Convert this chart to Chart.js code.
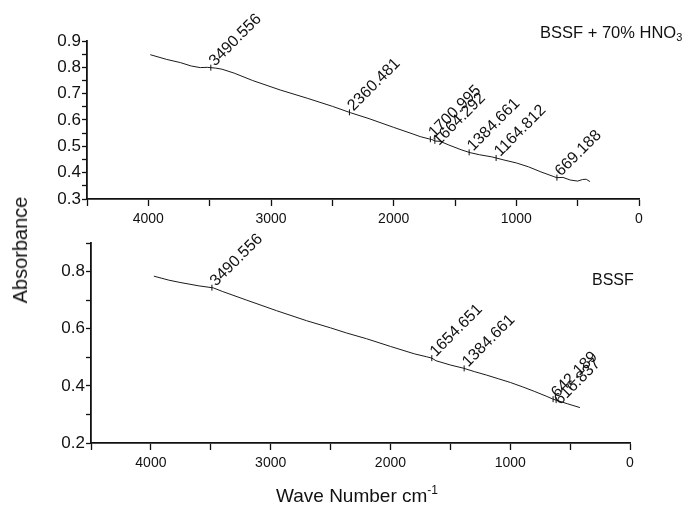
<!DOCTYPE html>
<html>
<head>
<meta charset="utf-8">
<script src="https://cdn.jsdelivr.net/npm/chart.js@4.4.1/dist/chart.umd.min.js"></script>
<style>
  body { margin: 0; background: #fff; width: 685px; height: 505px; position: relative; overflow: hidden;
         font-family: "Liberation Sans", Arial, sans-serif; color: #111; }
  canvas { position: absolute; left: 0; }
  #topChart { top: 0; }
  #bottomChart { top: 228px; }
  .txt { position: absolute; white-space: nowrap; line-height: 1; }
  sub { font-size: 11px; vertical-align: -3px; }
  sup { font-size: 12px; vertical-align: 8px; }
</style>
</head>
<body>
<canvas id="topChart" width="685" height="232"></canvas>
<canvas id="bottomChart" width="685" height="277"></canvas>

<div class="txt" style="left:540px;top:24px;font-size:16.5px">BSSF + 70% HNO<sub>3</sub></div>
<div class="txt" style="left:592px;top:272px;font-size:16px">BSSF</div>
<div class="txt" style="left:20px;top:250px;font-size:20px;transform:translate(-50%,-50%) rotate(-90deg)">Absorbance</div>
<div class="txt" style="left:357px;top:494px;font-size:19px;transform:translate(-50%,-50%)">Wave Number cm<sup>-1</sup></div>

<script>
// Data: BSSF + 70% HNO3 (top)
const topWave = [3984, 3850, 3739, 3650, 3576, 3520, 3450, 3400, 3300, 3150, 2925, 2700, 2500, 2354,
  2200, 2000, 1850, 1784, 1710, 1690, 1660, 1621, 1550, 1450, 1377, 1300, 1200, 1159, 1100, 1000,
  900, 800, 700, 670, 620, 560, 500, 460, 430, 400];
const topAbs = [0.848, 0.830, 0.818, 0.805, 0.799, 0.800, 0.797, 0.793, 0.778, 0.750, 0.714, 0.682, 0.652, 0.628,
  0.605, 0.572, 0.548, 0.537, 0.528, 0.526, 0.520, 0.519, 0.505, 0.487, 0.476, 0.468, 0.460, 0.455, 0.448, 0.437,
  0.422, 0.403, 0.386, 0.381, 0.382, 0.372, 0.368, 0.374, 0.375, 0.366];
const topPeaks = ["3490.556", "2360.481", "1700.995", "1664.292", "1384.661", "1164.812", "669.188"];

// Data: BSSF (bottom)
const bottomWave = [3975, 3850, 3758, 3600, 3480, 3400, 3200, 2950, 2700, 2500, 2366, 2200, 2000, 1800,
  1700, 1654, 1620, 1500, 1392, 1300, 1200, 1100, 1000, 900, 800, 700, 645, 617, 520, 418];
const bottomAbs = [0.784, 0.770, 0.762, 0.750, 0.743, 0.730, 0.700, 0.663, 0.628, 0.603, 0.585, 0.565, 0.538, 0.512,
  0.502, 0.497, 0.488, 0.473, 0.462, 0.450, 0.438, 0.425, 0.412, 0.397, 0.381, 0.364, 0.354, 0.350, 0.337, 0.324];
const bottomPeaks = ["3490.556", "1654.651", "1384.661", "642.189", "616.837"];

const font = "'Liberation Sans', Arial, sans-serif";

// y on the curve at a given wave number
const valueAt = (xs, ys, x) => {
  for (let i = 0; i < xs.length - 1; i++) {
    if (x <= xs[i] && x >= xs[i + 1]) {
      const t = (xs[i] - x) / (xs[i] - xs[i + 1]);
      return ys[i] + t * (ys[i + 1] - ys[i]);
    }
  }
  return ys[ys.length - 1];
};

// Peak labels, rotated 45 degrees, with a small marker on the curve
const peakLabels = {
  id: "peakLabels",
  afterDatasetsDraw(chart, args, opts) {
    const { ctx, scales } = chart;
    const xs = opts.wave, ys = opts.abs;
    let prevX = -100;
    ctx.save();
    ctx.fillStyle = "#111";
    ctx.strokeStyle = "#111";
    ctx.lineWidth = 1;
    ctx.font = "16px " + font;
    opts.peaks.forEach((p) => {
      const wn = parseFloat(p);
      const px = scales.x.getPixelForValue(wn);
      const py = scales.y.getPixelForValue(valueAt(xs, ys, wn));
      ctx.beginPath();
      ctx.moveTo(px, py - 3);
      ctx.lineTo(px, py + 3);
      ctx.stroke();
      // crowded neighbour: push the text a little lower
      const dy = px - prevX < 10 ? 6 : 0;
      prevX = px;
      ctx.save();
      ctx.translate(px + 1, py - 4 + dy);
      ctx.rotate(-Math.PI / 4);
      ctx.textAlign = "left";
      ctx.textBaseline = "middle";
      ctx.fillText(p, 0, 0);
      ctx.restore();
    });
    ctx.restore();
  },
};

const makeChart = (id, wave, abs, peaks, yMin, yStep, yLabel, box) => {
  const points = wave.map((w, i) => ({ x: w, y: abs[i] }));
  return new Chart(document.getElementById(id), {
    type: "line",
    data: {
      datasets: [{ data: points, borderColor: "#1a1a1a", borderWidth: 1, pointRadius: 0, tension: 0 }],
    },
    options: {
      responsive: false,
      animation: false,
      layout: { padding: { left: 0, right: box.right, top: box.top, bottom: 0 } },
      plugins: {
        legend: { display: false },
        tooltip: { enabled: false },
        peakLabels: { wave: wave, abs: abs, peaks: peaks },
      },
      scales: {
        x: {
          type: "linear",
          reverse: true,
          min: 0,
          max: 4500,
          afterFit: (s) => { s.height = box.xHeight; },
          border: { display: true, color: "#111", width: 1.8 },
          grid: { drawOnChartArea: false, drawTicks: true, tickLength: 7, color: "#111", tickWidth: 1.3 },
          ticks: {
            stepSize: 500,
            padding: 5,
            color: "#111",
            font: { family: font, size: 14 },
            maxRotation: 0,
            autoSkip: false,
            callback: (v) => (v % 1000 === 0 ? String(v) : ""),
          },
        },
        y: {
          min: yMin,
          max: 0.9,
          afterFit: (s) => { s.width = box.yWidth; },
          border: { display: true, color: "#111", width: 1.8 },
          grid: { drawOnChartArea: false, drawTicks: true, tickLength: 5, color: "#111", tickWidth: 1.3 },
          ticks: {
            stepSize: yStep,
            padding: 1,
            color: "#111",
            font: { family: font, size: 17 },
            autoSkip: false,
            callback: yLabel,
          },
        },
      },
    },
    plugins: [peakLabels],
  });
};

const near = (v, d) => Math.abs(v / d - Math.round(v / d)) < 1e-6;

makeChart("topChart", topWave, topAbs, topPeaks, 0.3, 0.05,
  (v) => (near(v, 0.1) ? v.toFixed(1) : ""),
  { right: 46, top: 41, yWidth: 87, xHeight: 33 });

makeChart("bottomChart", bottomWave, bottomAbs, bottomPeaks, 0.2, 0.1,
  (v) => (near(v, 0.2) && v < 0.85 ? v.toFixed(1) : ""),
  { right: 55, top: 15, yWidth: 91, xHeight: 62 });
</script>
</body>
</html>
